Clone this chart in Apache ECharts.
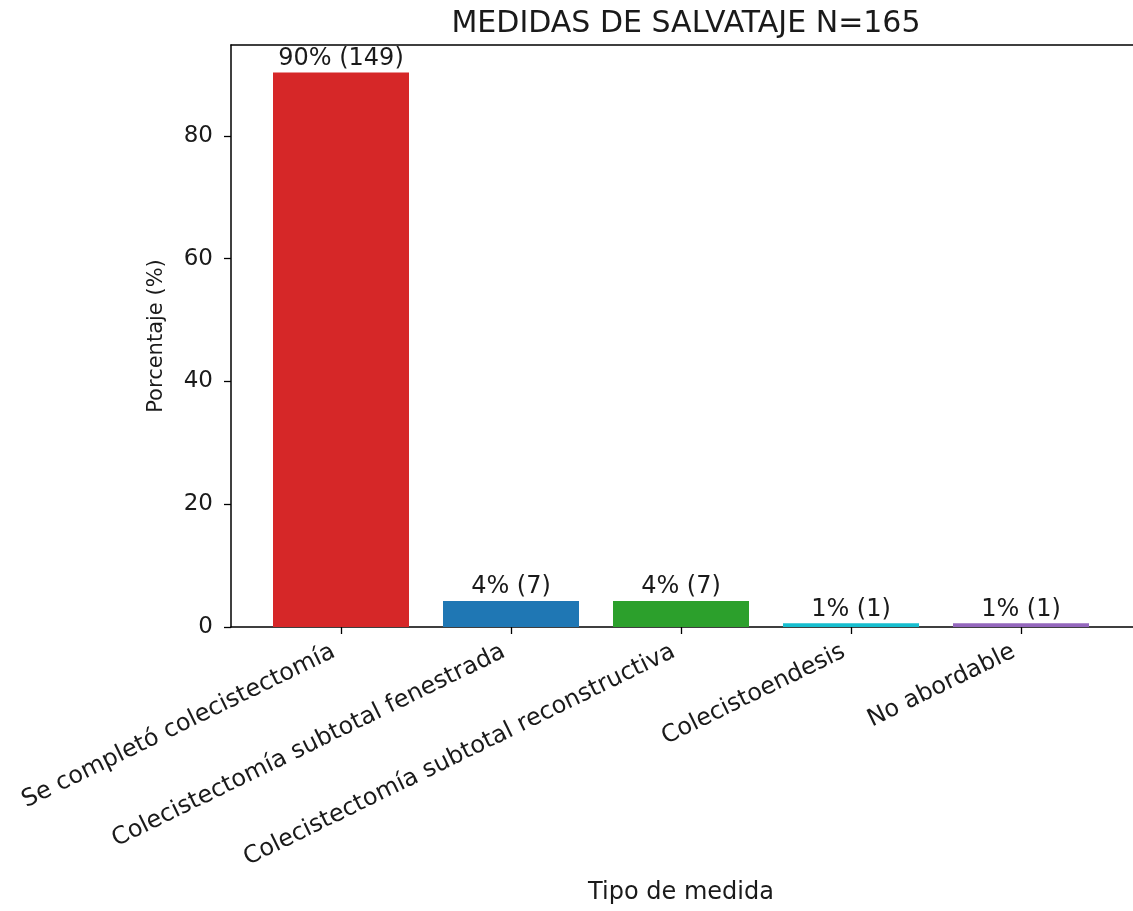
<!DOCTYPE html>
<html>
<head>
<meta charset="utf-8">
<script src="https://cdn.jsdelivr.net/npm/echarts@6/dist/echarts.min.js"></script>
<style>
html,body{margin:0;padding:0;background:#fff;}
#chart{width:1133px;height:911px;}
</style>
</head>
<body>
<div id="chart"></div>
<script>
var categories = ['Se completó colecistectomía', 'Colecistectomía subtotal fenestrada', 'Colecistectomía subtotal reconstructiva', 'Colecistoendesis', 'No abordable'];
var counts = [149, 7, 7, 1, 1];
var total = 165;
var barColors = ['#d62728', '#1f77b4', '#2ca02c', '#17becf', '#9467bd'];
var yTicks = [0, 20, 40, 60, 80];
var titleText = 'MEDIDAS DE SALVATAJE N=165';

var percents = counts.map(function (c) { return c / total * 100; });
var FONT = 'DejaVu Sans';
var TXT = '#1a1a1a';
var SPINE = { color: '#000', width: 1.5 };

function frameAxis(extra) {
  var a = {
    type: 'value', gridIndex: 1, min: 0, max: 1,
    axisLine: { show: true, onZero: false, lineStyle: SPINE },
    axisTick: { show: false }, axisLabel: { show: false }, splitLine: { show: false }
  };
  for (var k in extra) a[k] = extra[k];
  return a;
}

var chart = echarts.init(document.getElementById('chart'));
chart.setOption({
  animation: false,
  backgroundColor: '#fff',
  title: {
    text: titleText,
    left: 681, top: 4, textAlign: 'center',
    textStyle: { fontFamily: FONT, fontSize: 30, fontWeight: 'normal', color: TXT }
  },
  grid: [
    { left: 256, right: 27, top: 45, bottom: 284, containLabel: false, outerBoundsMode: 'none' },
    { left: 231, right: 0, top: 45, bottom: 284, containLabel: false, outerBoundsMode: 'none' }
  ],
  xAxis: [{
    type: 'category', gridIndex: 0, data: categories,
    axisLine: { show: false },
    axisTick: { show: true, alignWithLabel: true, length: 7, lineStyle: { color: '#000', width: 1.3 } },
    axisLabel: { rotate: 26, margin: 20, padding: [0, 8, 0, 0], fontFamily: FONT, fontSize: 24, color: TXT, interval: 0 },
    name: 'Tipo de medida', nameLocation: 'middle', nameGap: 254, nameMoveOverlap: false,
    nameTextStyle: { fontFamily: FONT, fontSize: 24, color: TXT }
  },
  frameAxis({ position: 'top' }),
  frameAxis({ position: 'bottom' })
  ],
  yAxis: [{
    type: 'value', gridIndex: 0, min: 0, max: 94.8, interval: 20, offset: 25,
    splitLine: { show: false },
    axisLine: { show: false },
    axisTick: { show: true, length: 7, lineStyle: { color: '#000', width: 1.3 }, customValues: yTicks },
    axisLabel: { margin: 18, fontFamily: FONT, fontSize: 23, color: TXT, customValues: yTicks },
    name: 'Porcentaje (%)', nameLocation: 'middle', nameGap: 64, nameMoveOverlap: false,
    nameTextStyle: { fontFamily: FONT, fontSize: 21, color: TXT }
  },
  frameAxis({ position: 'left' })
  ],
  series: [{
    type: 'bar', xAxisIndex: 0, yAxisIndex: 0,
    barWidth: '80%',
    data: percents.map(function (p, i) {
      return { value: p, itemStyle: { color: barColors[i] } };
    }),
    label: {
      show: true, position: 'top', distance: 2,
      fontFamily: FONT, fontSize: 24, color: TXT,
      formatter: function (params) {
        return Math.round(percents[params.dataIndex]) + '% (' + counts[params.dataIndex] + ')';
      }
    }
  }]
});
</script>
</body>
</html>
